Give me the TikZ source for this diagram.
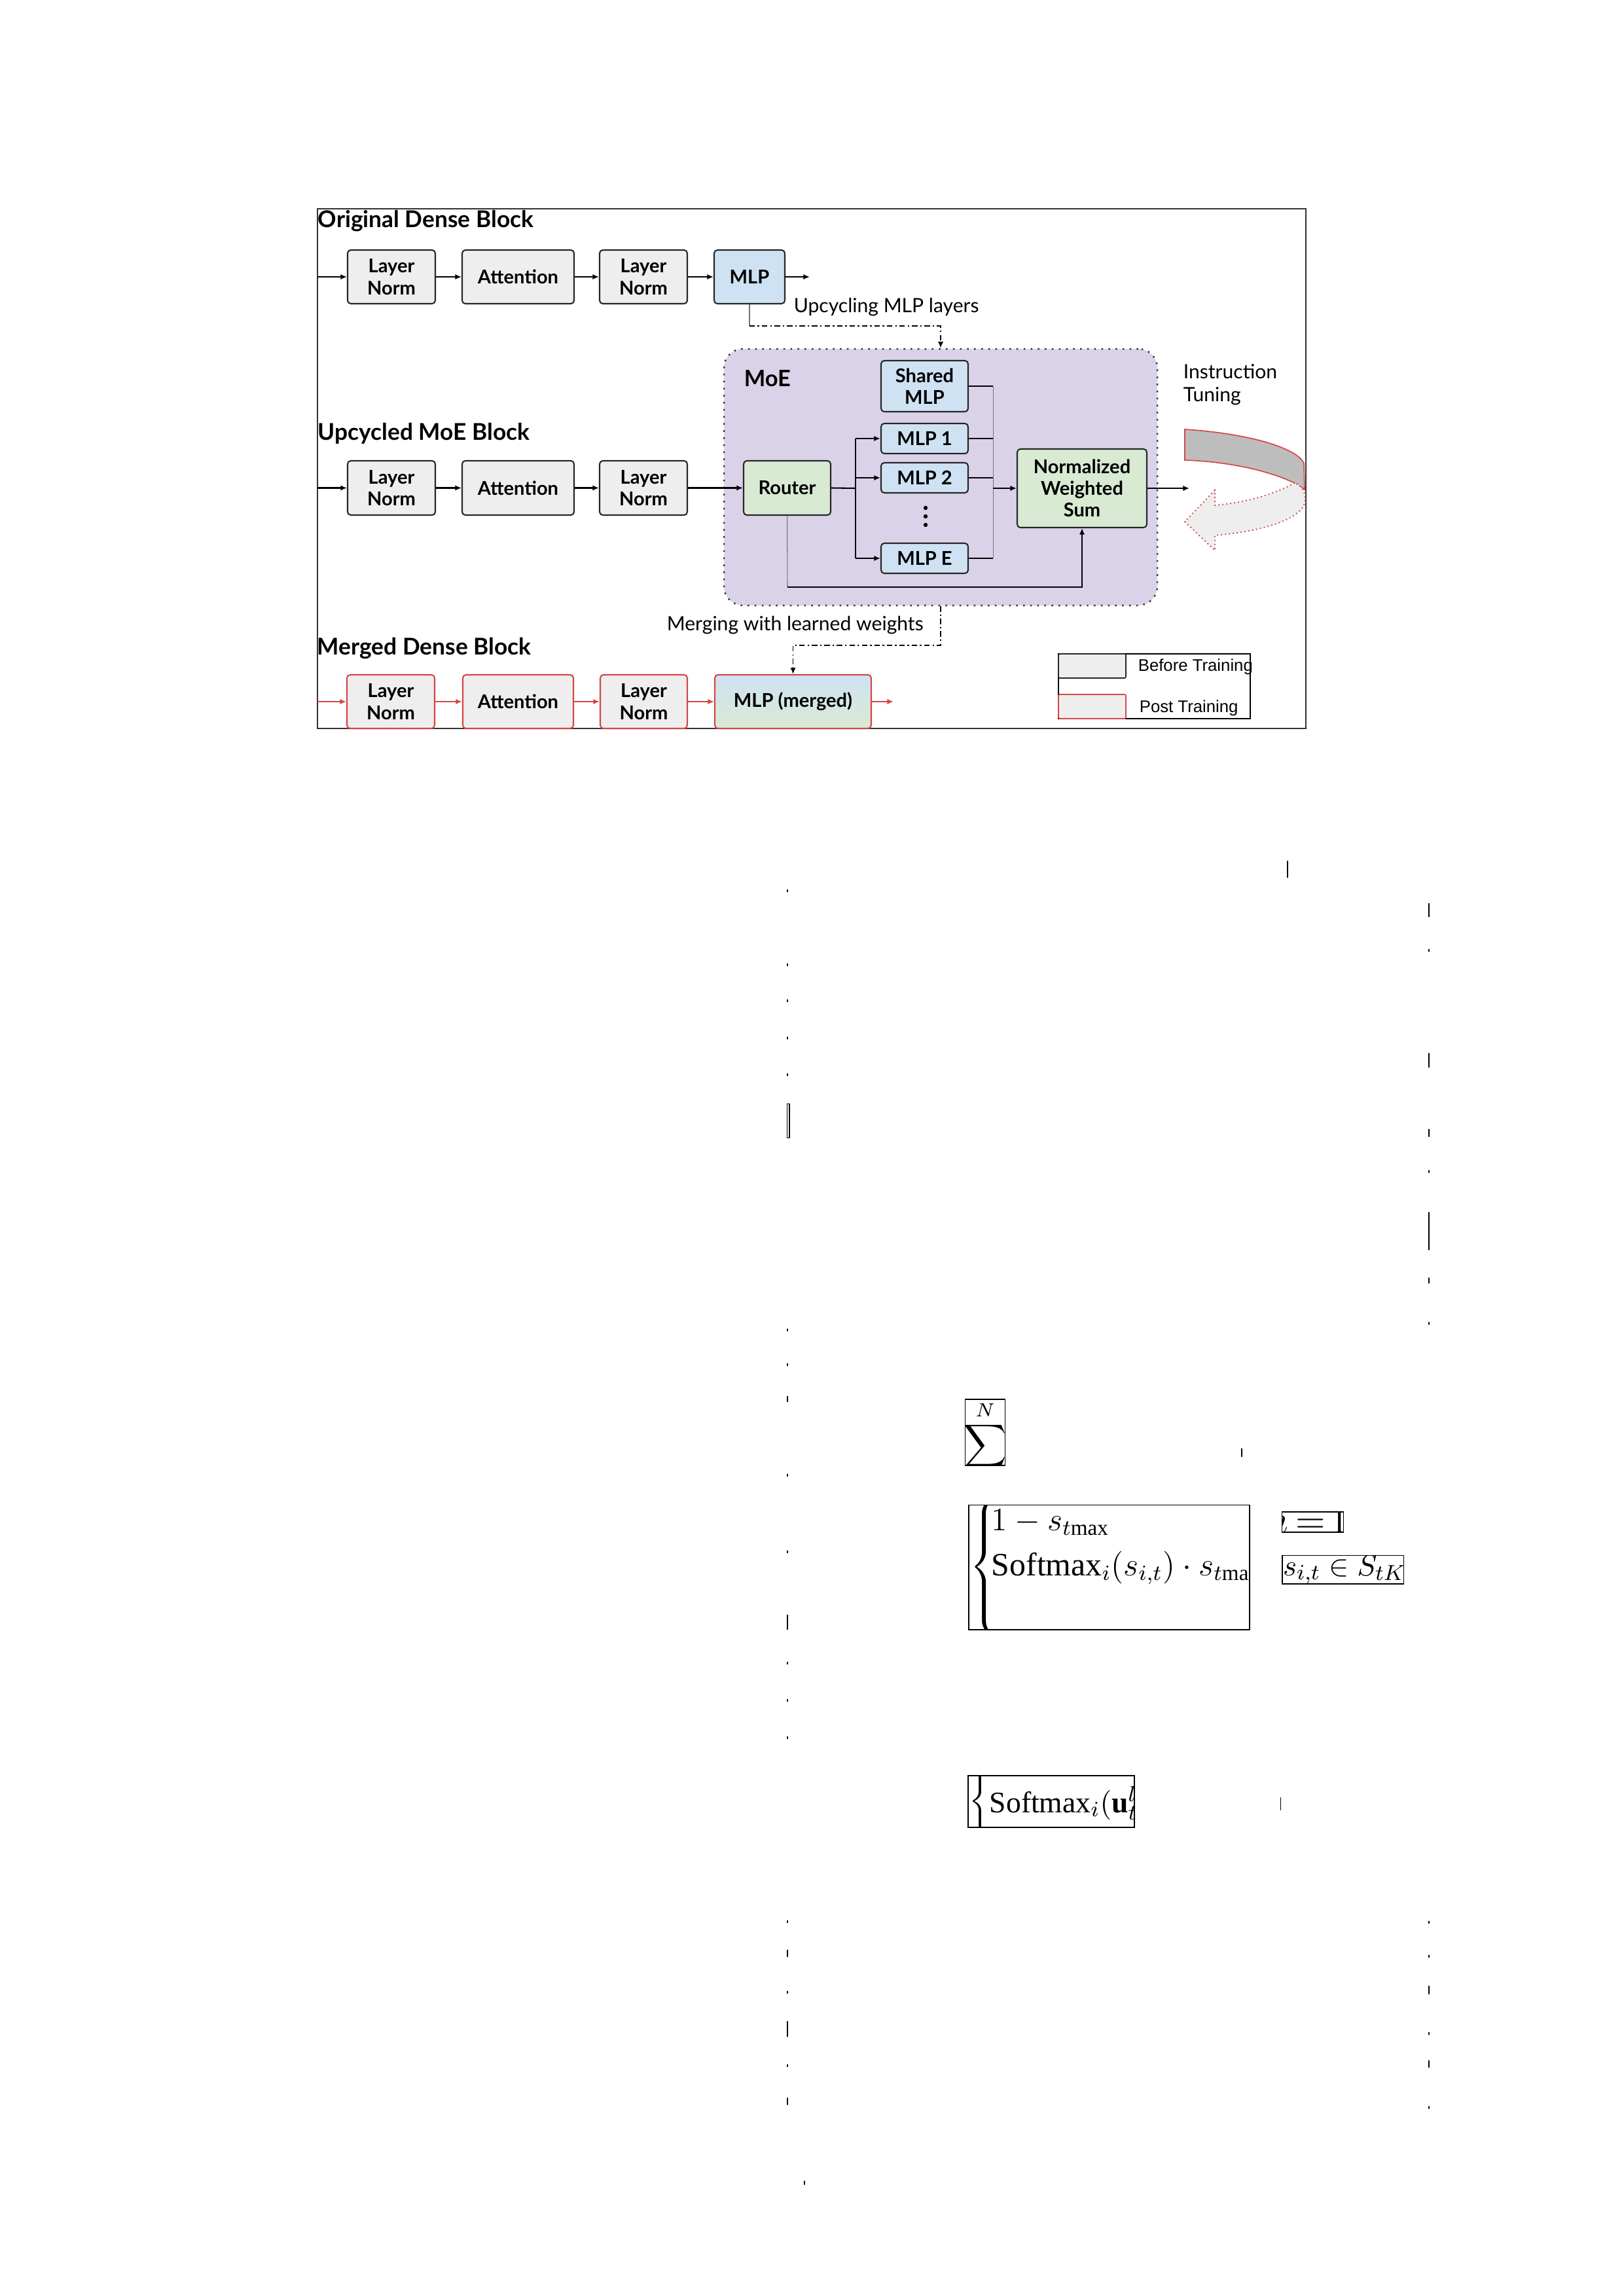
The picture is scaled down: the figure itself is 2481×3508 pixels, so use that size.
\documentclass[tikz,border=0pt]{standalone}
\usepackage{amsmath}
\usepackage[no-math]{fontspec}
\setmainfont{Lato}
\newfontfamily\arialf{Liberation Sans}
\newfontfamily\timesf{Liberation Serif}
\newcommand\tsm[1]{\text{\timesf #1}}
\usetikzlibrary{arrows.meta}
\definecolor{boxgray}{HTML}{EEEEEE}
\definecolor{boxblue}{HTML}{CFE2F3}
\definecolor{boxgreen}{HTML}{D9EAD3}
\definecolor{moepurple}{HTML}{D9D2E9}
\definecolor{postred}{HTML}{D64545}
\definecolor{bandgray}{HTML}{BDBDBD}
\begin{document}
\begin{tikzpicture}[x=0.2409pt, y=-0.2409pt,
  blk/.style={draw=black!85, line width=0.5pt, rounded corners=1.2pt, inner sep=0pt, align=center, font=\fontsize{7}{8}\selectfont\bfseries},
  sz/.style 2 args={minimum width=#1*0.2409pt, minimum height=#2*0.2409pt},
  gbox/.style={blk, fill=boxgray},
  bbox/.style={blk, fill=boxblue},
  grbox/.style={blk, fill=boxgreen},
  rbox/.style={blk, draw=postred, fill=boxgray},
  arr/.style={-{Latex[length=2.3pt,width=2pt]}, line width=0.5pt},
  rarr/.style={arr, color=postred},
  dd/.style={dash pattern=on 2pt off 1pt on 0.6pt off 1pt, line width=0.45pt},
  ttl/.style={anchor=base west, inner sep=0pt, font=\fontsize{8.5}{10}\selectfont\bfseries},
  ann/.style={anchor=base west, inner sep=0pt, font=\fontsize{7.25}{8}\selectfont},
  art/.style={line width=0.4pt},
  eqbox/.style={line width=0.3pt}
]
\useasboundingbox (0,0) rectangle (2481,3508);
\fill[white] (0,0) rectangle (2481,3508);

% frame
\draw[line width=0.3pt, black!80] (485,319) rectangle (1995,1113);

% titles
\node[ttl] (t1) at (485,347) {Original Dense Block};
\node[ttl] (t2) at (485,672) {Upcycled MoE Block};
\node[ttl] (t3) at (484,1000) {Merged Dense Block};

% MoE container
\node[draw=black!80, dotted, line width=0.6pt, fill=moepurple, rounded corners=7pt, sz={662}{392}] (moe) at (1437,729) {};
\node[anchor=base west, inner sep=0pt, font=\fontsize{8.3}{10}\selectfont\bfseries] (moet) at (1136,590) {MoE};

% row 1
\node[gbox, sz={134}{82}] (a1) at (598,423) {Layer\\Norm};
\node[gbox, sz={171}{82}] (b1) at (791.5,423) {Attention};
\node[gbox, sz={134}{82}] (c1) at (983,423) {Layer\\Norm};
\node[bbox, sz={108}{82}] (d1) at (1145,423) {MLP};
\coordinate (in1) at (485,423);
\coordinate (out1) at (1237,423);
\draw[arr] (in1) -- (a1.west);
\draw[arr] (a1.east) -- (b1.west);
\draw[arr] (b1.east) -- (c1.west);
\draw[arr] (c1.east) -- (d1.west);
\draw[arr] (d1.east) -- (out1);

% row 2
\node[gbox, sz={134}{83}] (a2) at (598,745.5) {Layer\\Norm};
\node[gbox, sz={171}{83}] (b2) at (791.5,745.5) {Attention};
\node[gbox, sz={134}{83}] (c2) at (983,745.5) {Layer\\Norm};
\node[grbox, sz={133}{83}] (router) at (1202.5,745.5) {Router};
\coordinate (in2) at (485,745.5);
\draw[arr] (in2) -- (a2.west);
\draw[arr] (a2.east) -- (b2.west);
\draw[arr] (b2.east) -- (c2.west);
\draw[arr] (c2.east) -- (router.west);

% experts
\node[bbox, sz={133}{78}] (sh) at (1412.5,590) {Shared\\MLP};
\node[bbox, sz={133}{46}] (m1) at (1412.5,670) {MLP 1};
\node[bbox, sz={133}{46}] (m2) at (1412.5,730) {MLP 2};
\node[bbox, sz={133}{46}] (mE) at (1412.5,853) {MLP E};
\fill (1414,776) circle (3.2) (1414,789) circle (3.2) (1414,802) circle (3.2);
\node[grbox, sz={198}{120}] (nws) at (1653,746) {Normalized\\Weighted\\Sum};

% router branches
\coordinate (rj) at (1307,746);
\coordinate (rt) at (1307,670);
\coordinate (rb) at (1307,853);
\draw[line width=0.5pt] (router.east) -- (rj);
\draw[line width=0.5pt] (rt) -- (rb);
\draw[arr] (rt) -- (m1.west);
\draw[arr] (rj |- m2.west) -- (m2.west);
\draw[arr] (rb) -- (mE.west);

% collector
\coordinate (cj) at (1517,746);
\draw[line width=0.5pt] (sh.east) -- (cj |- sh.east);
\draw[line width=0.5pt] (m1.east) -- (cj |- m1.east);
\draw[line width=0.5pt] (m2.east) -- (cj |- m2.east);
\draw[line width=0.5pt] (mE.east) -- (cj |- mE.east);
\draw[line width=0.25pt, black!55] (cj |- sh.east) -- (cj |- mE.east);
\draw[arr] (cj) -- (nws.west);

% router weights to sum
\coordinate (rw) at (1203,897);
\draw[line width=0.25pt, black!55] (router.south) -- (rw);
\draw[arr] (rw) -- (nws.south |- rw) -- (nws.south);

% output of MoE
\coordinate (out2) at (1817,746);
\draw[arr] (nws.east) -- (out2);

% upcycling dashed connector
\coordinate (up1) at (1145,498);
\coordinate (up2) at (1437,498);
\draw[line width=0.25pt, black!55] (d1.south) -- (up1);
\draw[dd, -{Latex[length=2.3pt,width=2pt]}] (up1) -- (up2) -- (moe.north);
\node[ann] (upl) at (1212,477) {Upcycling MLP layers};

% instruction tuning
\node[ann] (it1) at (1807,578) {Instruction};
\node[ann] (it2) at (1807,613) {Tuning};
\draw[postred, line width=0.4pt, fill=bandgray]
  (1810,656) .. controls (1905,662) and (1982,684) .. (1992,708)
  -- (1993,748) .. controls (1972,730) and (1900,706) .. (1810,703) -- cycle;
\draw[postred, densely dotted, line width=0.45pt, fill=boxgray]
  (1978,738) .. controls (1940,758) and (1900,768) .. (1856,772)
  -- (1856,749) -- (1810,797) -- (1856,841) -- (1856,818)
  .. controls (1930,812) and (1993,792) .. (1994,764)
  .. controls (1994,750) and (1988,742) .. (1978,738) -- cycle;

% row 3
\node[rbox, sz={134}{82}] (a3) at (597,1072) {Layer\\Norm};
\node[rbox, sz={169}{82}] (b3) at (791.5,1072) {Attention};
\node[rbox, sz={133}{82}] (c3) at (983.5,1072) {Layer\\Norm};
\node[blk, draw=postred, top color=boxblue, bottom color=boxgreen, sz={239}{82}] (mm) at (1211.5,1072) {MLP (merged)};
\coordinate (in3) at (485,1072);
\coordinate (out3) at (1365,1072);
\draw[rarr] (in3) -- (a3.west);
\draw[rarr] (a3.east) -- (b3.west);
\draw[rarr] (b3.east) -- (c3.west);
\draw[rarr] (c3.east) -- (mm.west);
\draw[rarr] (mm.east) -- (out3);

% merging dashed connector
\coordinate (mg1) at (1437,986);
\coordinate (mg2) at (1211.5,986);
\draw[dd, -{Latex[length=2.3pt,width=2pt]}] (moe.south) -- (mg1) -- (mg2) -- (mm.north);
\node[ann] (mgl) at (1018,963) {Merging with learned weights};

% legend
\draw[line width=0.3pt] (1617,999) rectangle (1910,1098);
\node[draw=black!85, line width=0.4pt, fill=boxgray, rounded corners=0.5pt, sz={103}{37}, inner sep=0pt] (lgb) at (1668.5,1017.5) {};
\node[draw=postred, line width=0.4pt, fill=boxgray, rounded corners=0.5pt, sz={103}{37}, inner sep=0pt] (lgp) at (1668.5,1079.5) {};
\node[anchor=base west, inner sep=0pt, font=\arialf\fontsize{6.2}{7}\selectfont] (lgbt) at (1738,1025) {Before Training};
\node[anchor=base west, inner sep=0pt, font=\arialf\fontsize{6.2}{7}\selectfont] (lgpt) at (1740,1088) {Post Training};

% ---- stray fragments below the figure ----
% sum
\draw[eqbox] (1474.5,2138) rectangle (1535.5,2239);
\begin{scope}
  \clip (1474.5,2138) rectangle (1535.5,2239);
  \node[anchor=north, inner sep=0pt, font=\fontsize{10.6}{13}\selectfont] (sumf) at (1505,2139) {$\displaystyle\sum^{N}$};
\end{scope}
% cases
\draw[eqbox] (1480,2299.5) rectangle (1909,2490);
\begin{scope}[font=\fontsize{12}{14}\selectfont]
  \clip (1480,2299.5) rectangle (1909,2490);
  \node[anchor=west, inner sep=0pt] (brace1) at (1481,2395) {$\left\{\vrule height 22.5pt depth 22.5pt width 0pt\right.$};
  \node[anchor=base west, inner sep=0pt] (l1) at (1514,2338) {$1 - s_{t\tsm{max}}$};
  \node[anchor=base west, inner sep=0pt] (l2) at (1514,2407) {$\tsm{Softmax}_i(s_{i,t}) \cdot s_{t\tsm{max}}$};
\end{scope}
% i = 1
\draw[eqbox] (1958.6,2310) rectangle (2052.6,2341);
\begin{scope}[font=\fontsize{13.5}{16}\selectfont]
  \clip (1958.6,2310) rectangle (2052.6,2341);
  \node[anchor=base east, inner sep=0pt] (c1f) at (2062,2342) {$i\mkern3mu{=}\mkern2mu1$};
\end{scope}
% s in S
\draw[eqbox] (1959,2376.5) rectangle (2144.6,2420);
\begin{scope}[font=\fontsize{11}{14}\selectfont]
  \clip (1959,2376.5) rectangle (2144.6,2420);
  \node[anchor=base west, inner sep=0pt] (c2f) at (1959,2407) {$s_{i,t} \in S_{tK}$};
\end{scope}
% softmax u
\draw[eqbox] (1479,2713) rectangle (1733,2792);
\begin{scope}[font=\fontsize{11}{14}\selectfont]
  \clip (1479,2713) rectangle (1733,2792);
  \node[anchor=west, inner sep=0pt] (brace2) at (1480,2752.5) {$\left\{\vrule height 9.3pt depth 9.3pt width 0pt\right.$};
  \node[anchor=base west, inner sep=0pt] (l3) at (1511,2769) {$\tsm{Softmax}_i(\text{\timesf\bfseries u}_t^{l}$};
\end{scope}

% ticks and dots
\draw[art] (1966.8,1315) -- (1966.8,1341);
\draw[art] (1897,2213) -- (1897,2226);
\draw[art] (1956.6,2746) -- (1956.6,2766);
\draw[art] (1229,3332) -- (1229,3338);
\draw[line width=0.25pt] (1202.7,1686) rectangle (1206,1738);
\foreach \yy in {1361,1474,1529,1586,1642,2032,2085,2254,2371,2541,2598,2655,2936,3044,3156}
  \draw[art] (1203,\yy-2) -- (1203,\yy+2);
\foreach \ya/\yb in {2133/2142,2467/2490,2979/2990,3088/3112,3205/3216}
  \draw[art] (1203,\ya) -- (1203,\yb);
\foreach \yy in {1452,1790,2022,2937,2989,3107,3220}
  \draw[art] (2183,\yy-2) -- (2183,\yy+2);
\foreach \ya/\yb in {1380/1401,1609/1631,1725/1737,1852/1910,1952/1961,3034/3047,3148/3159}
  \draw[art] (2183,\ya) -- (2183,\yb);
\end{tikzpicture}
\end{document}
